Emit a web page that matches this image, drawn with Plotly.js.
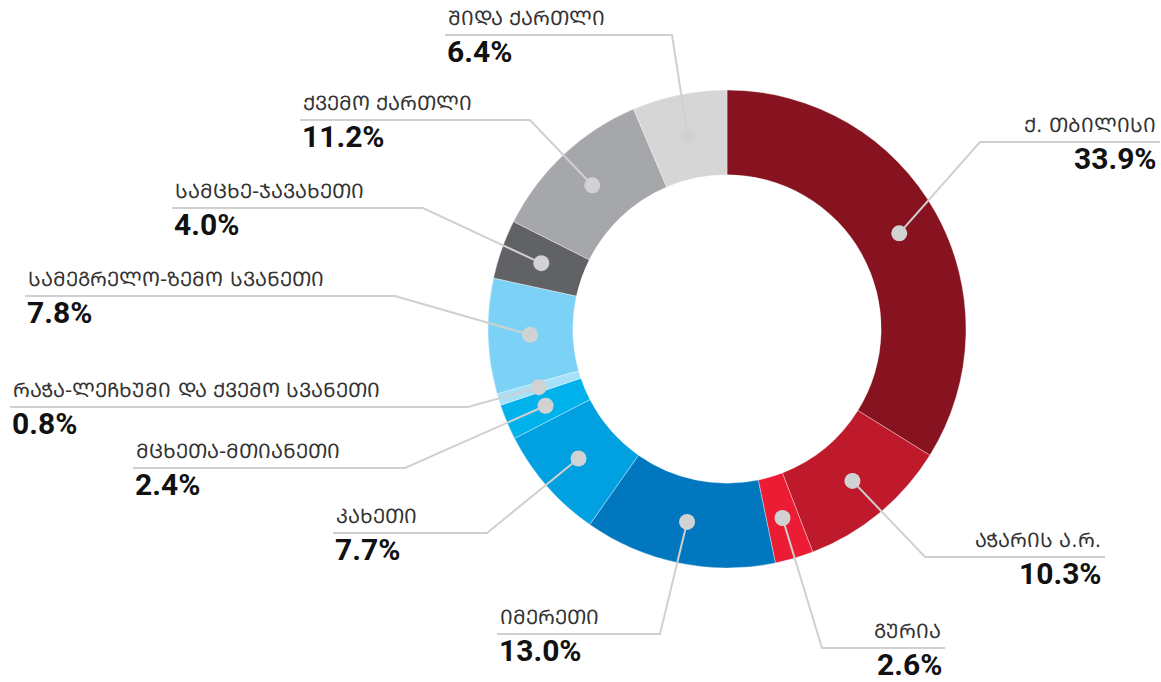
<!DOCTYPE html>
<html>
<head>
<meta charset="utf-8">
<script src="https://cdn.plot.ly/plotly-3.0.1.min.js"></script>
<style>html,body{margin:0;padding:0;background:#fff;}#chart{width:1161px;height:682px;}</style>
</head>
<body>
<div id="chart"></div>
<script>
// ---- data ----
const regions = [
  "ქ. თბილისი", "აჭარის ა.რ.", "გურია", "იმერეთი", "კახეთი", "მცხეთა-მთიანეთი",
  "რაჭა-ლეჩხუმი და ქვემო სვანეთი", "სამეგრელო-ზემო სვანეთი", "სამცხე-ჯავახეთი",
  "ქვემო ქართლი", "შიდა ქართლი"
];
const shares = [33.9, 10.3, 2.6, 13.0, 7.7, 2.4, 0.8, 7.8, 4.0, 11.2, 6.4];
const colors = ["#86131F", "#BE1A2B", "#EC1C34", "#0077BF", "#00A0E1", "#00B2EC",
                "#A6E0F9", "#7CD2F6", "#616265", "#A6A7AA", "#D6D6D7"];

// ---- label layout (pixels): knee point, line y, line end ----
const kneeX = [980, 925, 822, 660, 487, 405, 468, 395, 423, 530, 672];
const lineY = [142, 557, 648, 634, 533, 468, 407, 296, 208, 120, 35];
const endX  = [1160, 1105, 945, 497, 333, 133, 10, 25, 172, 300, 445];

const W = 1161, H = 682;
const CX = 727, CY = 329, R = 239, DOTR = 197;

function toMtavruli(s){
  return s.replace(/[\u10D0-\u10FA]/g, c => String.fromCharCode(c.charCodeAt(0) + 0xBC0));
}
const px = x => x / W;
const py = y => 1 - y / H;

const total = shares.reduce((a, b) => a + b, 0);
const shapes = [], annotations = [];
let cum = 0;
shares.forEach((v, i) => {
  const mid = (cum + v / 2) / total;
  cum += v;
  const ang = mid * 2 * Math.PI;
  const dx = CX + DOTR * Math.sin(ang);
  const dy = CY - DOTR * Math.cos(ang);
  const right = endX[i] > kneeX[i];
  shapes.push({type: "path", xref: "paper", yref: "paper", layer: "above",
    path: `M ${px(dx)} ${py(dy)} L ${px(kneeX[i])} ${py(lineY[i])} L ${px(endX[i])} ${py(lineY[i])}`,
    line: {color: "#D0D0D0", width: 2}});
  const r = 8;
  shapes.push({type: "circle", xref: "paper", yref: "paper", layer: "above",
    x0: px(dx - r), x1: px(dx + r), y0: py(dy + r), y1: py(dy - r),
    fillcolor: "#D1D2D4", line: {width: 0}});
  const tx = right ? endX[i] - 2 : endX[i] + 1;
  annotations.push({xref: "paper", yref: "paper", x: px(tx), y: py(lineY[i] - 3),
    xanchor: right ? "right" : "left", yanchor: "bottom", showarrow: false,
    text: toMtavruli(regions[i]),
    font: {family: "DejaVu Sans", size: 20, color: "#333333"}});
  annotations.push({xref: "paper", yref: "paper", x: px(tx), y: py(lineY[i] - 2),
    xanchor: right ? "right" : "left", yanchor: "top", showarrow: false, borderpad: 0,
    text: "<b>" + v.toFixed(1) + "%</b>",
    font: {family: "Roboto, Noto Sans", size: 30, color: "#111111"}});
});

const trace = {
  type: "pie",
  labels: regions,
  values: shares,
  sort: false,
  direction: "clockwise",
  rotation: 0,
  hole: 0.645,
  textinfo: "none",
  hoverinfo: "label+percent",
  marker: {colors: colors, line: {color: "rgba(255,255,255,0.6)", width: 0.6}},
  domain: {x: [px(CX - R), px(CX + R)], y: [py(CY + R), py(CY - R)]},
  showlegend: false
};

Plotly.newPlot("chart", [trace], {
  width: W, height: H,
  margin: {l: 0, r: 0, t: 0, b: 0, pad: 0},
  paper_bgcolor: "#ffffff",
  showlegend: false,
  shapes: shapes,
  annotations: annotations
}, {displayModeBar: false, staticPlot: true});
</script>
</body>
</html>
